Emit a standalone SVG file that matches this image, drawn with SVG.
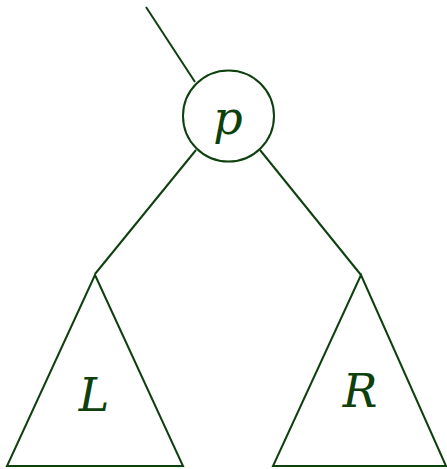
<svg xmlns="http://www.w3.org/2000/svg" width="447" height="469" viewBox="0 0 447 469">
<style>
.s{fill:none;stroke:#0d400d;stroke-width:2}
.t{font-family:"DejaVu Serif",serif;font-style:italic;font-size:46px;fill:#0d400d;text-anchor:middle}
</style>
<rect width="447" height="469" fill="#fff"/>
<g id="connectors">
<line class="s" x1="146" y1="7" x2="195" y2="82"/>
<line class="s" x1="196" y1="150" x2="95" y2="274"/>
<line class="s" x1="260" y1="150" x2="361" y2="275"/>
</g>
<g id="p">
<circle class="s" cx="228.5" cy="116" r="45.5"/>
<text class="t" x="228" y="134">p</text>
</g>
<g id="L">
<polygon class="s" points="95,275 7,466 183,466"/>
<text class="t" x="94" y="411">L</text>
</g>
<g id="R">
<polygon class="s" points="361,275 273,466 446,466"/>
<text class="t" x="360" y="407">R</text>
</g>
</svg>
